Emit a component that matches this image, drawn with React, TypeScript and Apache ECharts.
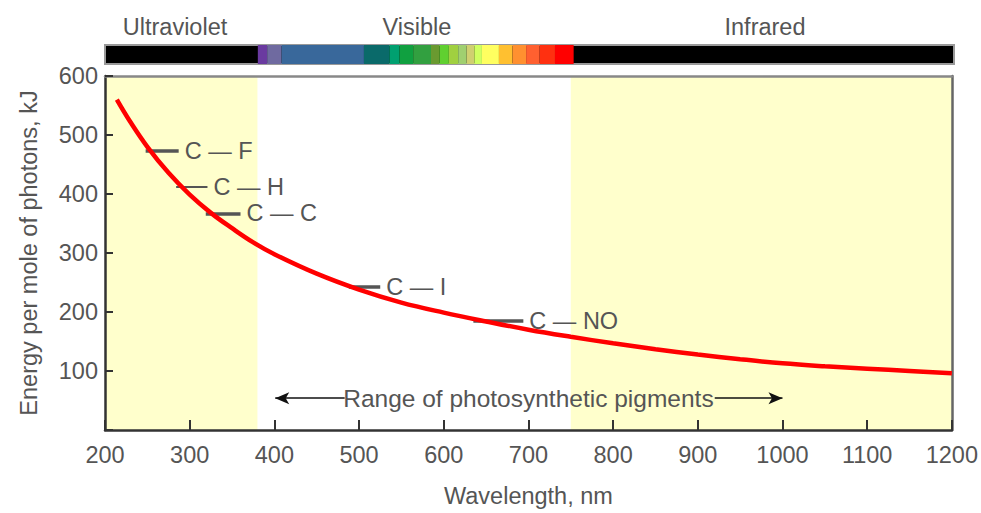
import React, { useEffect, useRef } from "react";
import * as echarts from "echarts";

// Photon energy curve
const wavelengths = [214, 230, 250, 275, 300, 325, 350, 375, 400, 450, 500, 550, 600, 650, 700, 750, 800, 850, 900, 950, 1000, 1050, 1100, 1150, 1200];
const energies = [560, 522, 480, 436, 399, 368, 342, 318, 298, 265, 238, 216, 199, 184, 170, 158, 147, 137, 128, 120, 113, 108, 104, 100, 96];

// Bond energies
const bondLabels = ["C — F", "C — H", "C — C", "C — I", "C — NO"];
const bondEnergies = [473, 412, 367, 243, 185];
const bondStart = [248, 284, 319, 488, 635];
const bondEnd = [287, 321, 360, 525, 694];
const bondWidths = [3.5, 2, 3.5, 3.5, 3.5];

// Shaded regions (nm)
const uvRange = [200, 380];
const irRange = [750, 1200];

// Photosynthetic pigments range
const pigmentRange = [401, 1000];
const pigmentTextEdges = [483, 920];
const pigmentTextCenter = 700;
const pigmentLevel = 54;
const pigmentLabel = "Range of photosynthetic pigments";

// Spectrum bar segments (nm)
const spectrumStart = [380, 391, 408, 505, 535, 547, 563, 584, 594, 605, 616, 626, 635, 644, 664, 680, 696, 712, 730];
const spectrumEnd = [391, 408, 505, 535, 547, 563, 584, 594, 605, 616, 626, 635, 644, 664, 680, 696, 712, 730, 752];
const spectrumColors = ["#6a3aa0", "#6f6aa0", "#39689b", "#0a6a6a", "#00a070", "#10a040", "#32a040", "#6a9a30", "#60d030", "#a0d040", "#a0d070", "#d0d070", "#d0ff60", "#ffff60", "#ffc030", "#ff9030", "#ff6030", "#ff3010", "#ff0000"];

const regionLabels = ["Ultraviolet", "Visible", "Infrared"];
const regionLabelX = [175, 417, 765];

const xTicks = { min: 200, max: 1200, interval: 100 };
const yTicks = { min: 0, max: 600, interval: 100 };

const FONT = "'Liberation Sans', Arial, Helvetica, sans-serif";
const TEXT = "#555";
const FS = 23.5;

export default function App() {
  const ref = useRef<HTMLDivElement>(null);
  useEffect(() => {
    if (!ref.current) return;
    const chart = echarts.init(ref.current, undefined, { renderer: "svg" });

    const curve = wavelengths.map((w, i) => [w, energies[i]]);
    const bondLines = bondLabels.map((lab, i) => [
      {
        coord: [bondStart[i], bondEnergies[i]],
        lineStyle: { width: bondWidths[i], color: "#555", type: "solid" },
        label: { show: true, formatter: lab, position: "end", distance: 6, color: TEXT, fontSize: FS, fontFamily: FONT },
      },
      { coord: [bondEnd[i], bondEnergies[i]] },
    ]);

    const spectrumData: any[] = [
      { value: [200, 1200, 1], itemStyle: { color: "#000" } },
      ...spectrumStart.map((s, i) => ({ value: [s, spectrumEnd[i], 0], itemStyle: { color: spectrumColors[i] } })),
    ];

    const option: any = {
      animation: false,
      backgroundColor: "#fff",
      textStyle: { fontFamily: FONT },
      grid: [
        { left: 105, right: 27, top: 76, bottom: 75 },
        { left: 105, right: 27, top: 45, height: 19 },
      ],
      graphic: regionLabels.map((t, i) => ({
        type: "text",
        x: regionLabelX[i],
        y: 27,
        style: { text: t, fill: TEXT, fontSize: FS, fontFamily: FONT, align: "center", verticalAlign: "middle" },
      })),
      xAxis: [
        {
          type: "value",
          gridIndex: 0,
          min: xTicks.min,
          max: xTicks.max,
          interval: xTicks.interval,
          z: 4,
          name: "Wavelength, nm",
          nameLocation: "middle",
          nameGap: 54,
          nameTextStyle: { color: TEXT, fontSize: FS, fontFamily: FONT },
          axisLine: { show: true, onZero: false, lineStyle: { color: "#333", width: 2.5 } },
          axisTick: { show: true, inside: true, length: 10, lineStyle: { color: "#333", width: 2 } },
          axisLabel: { color: TEXT, fontSize: FS, fontFamily: FONT, margin: 13, formatter: (v: number) => String(v) },
          splitLine: { show: false },
        },
        {
          type: "value",
          gridIndex: 0,
          position: "top",
          min: xTicks.min,
          max: xTicks.max,
          z: 4,
          axisLine: { show: true, onZero: false, lineStyle: { color: "#888", width: 2.5 } },
          axisTick: { show: false },
          axisLabel: { show: false },
          splitLine: { show: false },
        },
        {
          type: "value",
          gridIndex: 1,
          min: xTicks.min,
          max: xTicks.max,
          show: false,
        },
      ],
      yAxis: [
        {
          type: "value",
          gridIndex: 0,
          min: yTicks.min,
          max: yTicks.max,
          interval: yTicks.interval,
          z: 4,
          name: "Energy per mole of photons, kJ",
          nameLocation: "middle",
          nameGap: 64,
          nameTextStyle: { color: TEXT, fontSize: FS, fontFamily: FONT },
          axisLine: { show: true, onZero: false, lineStyle: { color: "#333", width: 2.5 } },
          axisTick: { show: true, inside: true, length: 8, lineStyle: { color: "#333", width: 2 } },
          axisLabel: { color: TEXT, fontSize: FS, fontFamily: FONT, margin: 7, formatter: (v: number) => (v === 0 ? "" : String(v)) },
          splitLine: { show: false },
        },
        {
          type: "value",
          gridIndex: 0,
          position: "right",
          min: yTicks.min,
          max: yTicks.max,
          z: 4,
          axisLine: { show: true, onZero: false, lineStyle: { color: "#666", width: 2.5 } },
          axisTick: { show: false },
          axisLabel: { show: false },
          splitLine: { show: false },
        },
        { type: "value", gridIndex: 1, min: 0, max: 1, show: false },
      ],
      series: [
        {
          type: "line",
          xAxisIndex: 0,
          yAxisIndex: 0,
          data: curve,
          smooth: 0.4,
          symbol: "none",
          z: 6,
          lineStyle: { color: "#ff0000", width: 4.5 },
          markArea: {
            silent: true,
            itemStyle: { color: "#ffffcc" },
            data: [
              [{ xAxis: uvRange[0] }, { xAxis: uvRange[1] }],
              [{ xAxis: irRange[0] }, { xAxis: irRange[1] }],
            ],
          },
        },
        {
          type: "line",
          xAxisIndex: 0,
          yAxisIndex: 0,
          data: [],
          z: 5,
          markLine: {
            silent: true,
            symbol: ["none", "none"],
            data: bondLines,
          },
        },
        {
          type: "line",
          xAxisIndex: 0,
          yAxisIndex: 0,
          data: [],
          z: 5,
          markLine: {
            silent: true,
            symbolSize: [9, 14],
            lineStyle: { color: "#111", width: 1.5, type: "solid" },
            label: { show: false },
            data: [
              [
                { coord: [pigmentRange[0], pigmentLevel], symbol: "arrow" },
                { coord: [pigmentTextEdges[0], pigmentLevel], symbol: "none" },
              ],
              [
                { coord: [pigmentTextEdges[1], pigmentLevel], symbol: "none" },
                { coord: [pigmentRange[1], pigmentLevel], symbol: "arrow" },
              ],
            ],
          },
          markPoint: {
            silent: true,
            symbol: "circle",
            symbolSize: 1,
            itemStyle: { color: "rgba(0,0,0,0)" },
            label: { show: true, position: "inside", formatter: pigmentLabel, color: TEXT, fontSize: 24.5, fontFamily: FONT },
            data: [{ coord: [pigmentTextCenter, pigmentLevel] }],
          },
        },
        {
          type: "custom",
          xAxisIndex: 2,
          yAxisIndex: 2,
          data: spectrumData,
          renderItem: (params: any, api: any) => {
            const s = api.coord([api.value(0), 1]);
            const e = api.coord([api.value(1), 0]);
            const isBg = api.value(2) === 1;
            return {
              type: "rect",
              shape: { x: s[0], y: s[1], width: e[0] - s[0], height: e[1] - s[1] },
              style: isBg ? { fill: api.visual("color"), stroke: "#999", lineWidth: 2 } : { fill: api.visual("color") },
            };
          },
        },
      ],
    };
    chart.setOption(option);
    return () => chart.dispose();
  }, []);
  return <div ref={ref} style={{ position: "fixed", left: 0, top: 0, width: 981, height: 513 }} />;
}
